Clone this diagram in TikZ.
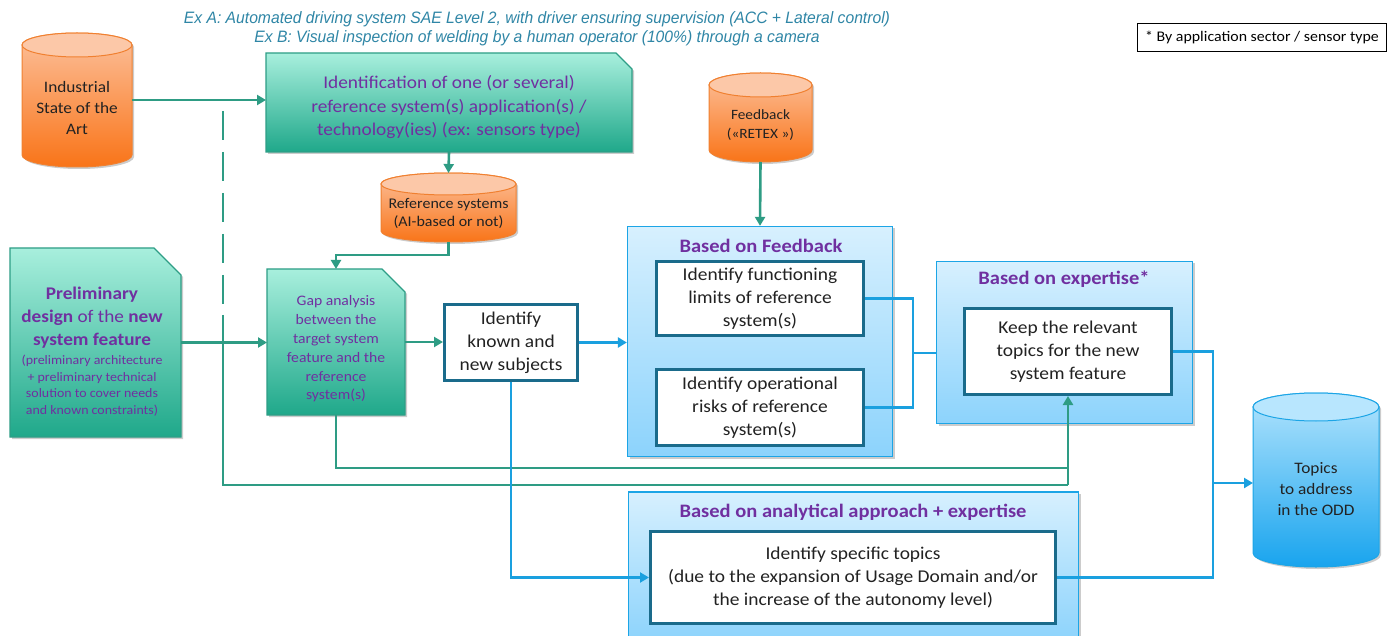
\documentclass[tikz,border=0pt]{standalone}
\usepackage{fontspec}
\setmainfont{Carlito}[FakeStretch=1.08]
\newfontfamily\exfont[FakeStretch=0.95]{Liberation Sans}
\usetikzlibrary{arrows.meta,shadows,fit}

\definecolor{tealL}{HTML}{A8EFDD}
\definecolor{tealD}{HTML}{1FA88A}
\definecolor{tealE}{HTML}{2E9E86}
\definecolor{tealLine}{HTML}{2E9C84}
\definecolor{oraL}{HTML}{FCC09B}
\definecolor{oraD}{HTML}{F97418}
\definecolor{oraE}{HTML}{F08030}
\definecolor{oraTop}{HTML}{FCC8A8}
\definecolor{bluL}{HTML}{D7F0FE}
\definecolor{bluD}{HTML}{8CD3FC}
\definecolor{bluE}{HTML}{1CA5E6}
\definecolor{bluLine}{HTML}{1AA0DF}
\definecolor{boxE}{HTML}{1A6B8B}
\definecolor{purp}{HTML}{7030A0}
\definecolor{exblue}{HTML}{2F86A6}
\definecolor{cylBL}{HTML}{B3E4FD}
\definecolor{cylBD}{HTML}{18A4EE}
\definecolor{cylBTop}{HTML}{B8E6FE}
\definecolor{ink}{HTML}{222222}

% cylinder: name, x1, y1, x2, y2, lid radius, colour style, text node options, text
\newcommand\cylnode[9]{%
  \path[#7 body] (#2,{#3+#6}) -- (#2,{#5-#6})
    arc[start angle=180,end angle=0,x radius={(#4-#2)/2},y radius=#6]
    -- (#4,{#3+#6})
    arc[start angle=0,end angle=-180,x radius={(#4-#2)/2},y radius=#6] -- cycle;
  \path[#7 lid] ({(#2+#4)/2},{#3+#6}) ellipse[x radius={(#4-#2)/2},y radius=#6];
  \node[inner sep=0,outer sep=0,fit={(#2,#3) (#4,#5)}] (#1) {};
  \node[align=center,text=ink,#8] (#1-t) {#9};}

% box with a cut top-right corner: name, x1, y1, x2, y2, cut, text node options, text
\newcommand\snipnode[8]{%
  \path[snipbox] (#2,#3) -- ({#4-#6},#3) -- (#4,{#3+#6}) -- (#4,#5) -- (#2,#5) -- cycle;
  \node[inner sep=0,outer sep=0,fit={(#2,#3) (#4,#5)}] (#1) {};
  \node[align=center,text=purp,#7] (#1-t) {#8};}

\tikzset{
  shd/.style={drop shadow={shadow xshift=2pt,shadow yshift=-2pt,fill=black,opacity=0.2}},
  orange body/.style={draw=oraE,line width=1pt,top color=oraL,bottom color=oraD,shd},
  orange lid/.style={draw=oraE,line width=1pt,fill=oraTop},
  blue body/.style={draw=bluE,line width=1pt,top color=cylBL,bottom color=cylBD,shd},
  blue lid/.style={draw=bluE,line width=1pt,fill=cylBTop},
  snipbox/.style={draw=tealE,line width=1.2pt,top color=tealL,bottom color=tealD,shd},
  container/.style={draw=bluE,line width=1.3pt,top color=bluL,bottom color=bluD,shd,inner sep=0},
  wbox/.style={draw=boxE,line width=3pt,fill=white,inner sep=0,align=center,text=ink,
    font=\fontsize{18}{23}\selectfont},
  ttl/.style={text=purp,font=\fontsize{19}{21}\selectfont\bfseries},
  extxt/.style={text=exblue,font=\exfont\itshape\fontsize{16.5}{18}\selectfont},
  tealln/.style={draw=tealLine,line width=2.6pt},
  blueln/.style={draw=bluLine,line width=2.8pt},
  tip/.style={-{Triangle[length=9pt,width=10pt]}},
}

\begin{document}
\begin{tikzpicture}[x=1pt,y=-1pt]
\useasboundingbox[fill=white] (0,0) rectangle (1392,636);

% example captions
\node[extxt] (exa) at (537,19)
  {Ex A: Automated driving system SAE Level 2, with driver ensuring supervision (ACC + Lateral control)};
\node[extxt] (exb) at (537,38)
  {Ex B: Visual inspection of welding by a human operator (100\%) through a camera};

% footnote box
\node[draw=black,line width=0.9pt,fill=white,minimum width=249pt,minimum height=28pt,
  font=\fontsize{14.7}{16}\selectfont,text=black] (note) at (1262,37.5)
  {* By application sector / sensor type};

% containers
\node[container,minimum width=265pt,minimum height=230pt] (fbc) at (760,341.5) {};
\node[container,minimum width=256pt,minimum height=162pt] (expc) at (1064.5,342.5) {};
\node[container,minimum width=450pt,minimum height=150pt] (botc) at (853.5,567) {};
\node[ttl] (fbc-t) at (761,246) {Based on Feedback};
\node[ttl] (expc-t) at (1064,279) {Based on expertise*};
\node[ttl] (botc-t) at (853,512) {Based on analytical approach + expertise};

% data stores
\cylnode{ind}{22}{33}{132}{167}{12}{orange}
  {at={(77,108)},font=\fontsize{16}{21}\selectfont}{Industrial\\State of the\\Art}
\cylnode{ref}{381}{173}{516}{242}{11}{orange}
  {at={(448.5,213)},font=\fontsize{14.8}{18}\selectfont}{Reference systems\\(AI-based or not)}
\cylnode{fb}{709}{73}{812}{162}{12}{orange}
  {at={(760.5,125)},font=\fontsize{14.2}{19}\selectfont}{Feedback\\(«RETEX »)}
\cylnode{odd}{1253}{393}{1379}{567}{14}{blue}
  {at={(1316,489)},font=\fontsize{16}{21}\selectfont}{Topics\\to address\\in the ODD}

% design inputs
\snipnode{top}{266}{53}{632}{152}{16}
  {at={(449,107)},font=\fontsize{17.9}{23.5}\selectfont}
  {Identification of one (or several)\\ reference system(s) application(s) /\\
   technology(ies) (ex: sensors type)}
\snipnode{pre}{10}{248}{181}{437}{27}
  {at={(92,318)},font=\fontsize{17.8}{23}\selectfont}
  {\textbf{Preliminary}\\ \textbf{design} of the \textbf{new}\\ \textbf{system feature}}
\node[align=center,text=purp,font=\fontsize{12.9}{16.5}\selectfont] (pre-d) at (92,385.5)
  {(preliminary architecture\\ + preliminary technical\\ solution to cover needs\\
   and known constraints)};
\snipnode{gap}{267}{269}{405}{415}{23}
  {at={(336,349)},font=\fontsize{14.5}{18.8}\selectfont}
  {Gap analysis\\ between the\\ target system\\ feature and the\\ reference\\ system(s)}

% connectors
\draw[tealln,tip] (ind.east) -- (ind.east -| top.west);
\draw[tealln,tip] (top.south) -- (ref.north);
\draw[tealln,tip] (ref.south) -- ++(0,13) -| (gap.north);
\draw[tealln,tip] (fb.south) -- (fbc.north);
\draw[tealln,tip] (pre.east) -- (pre.east -| gap.west);

\coordinate (dtop) at (223,100);
\coordinate (dmid) at (223,315);
\coordinate (oj) at (1068,485);
\coordinate (gj) at (1068,468);
\draw[tealln,dash pattern=on 29pt off 12pt,dash phase=30pt] (dtop) -- (dmid);
\draw[tealln] (dmid) |- (oj);
\draw[tealln] (gap.south) |- (gj);

\coordinate (fbj) at (913,353);
\coordinate (tj) at (1213,483);

% task boxes
\node[wbox,minimum width=133pt,minimum height=76pt] (known) at (511,342.5)
  {Identify\\ known and\\ new subjects};
\node[wbox,minimum width=207pt,minimum height=74pt] (in1) at (760,298.5)
  {Identify functioning\\ limits of reference\\ system(s)};
\node[wbox,minimum width=207pt,minimum height=76pt] (in2) at (760,407.5)
  {Identify operational\\ risks of reference\\ system(s)};
\node[wbox,minimum width=207pt,minimum height=86pt] (expin) at (1068,351.5)
  {Keep the relevant\\ topics for the new\\ system feature};
\node[wbox,minimum width=405pt,minimum height=92pt] (botin) at (853,577.5)
  {Identify specific topics\\ (due to the expansion of Usage Domain and/or\\
   the increase of the autonomy level)};

\draw[tealln,tip] (gap.east) -- (gap.east -| known.west);
\draw[tealln,tip] (oj) -- (expin.south);
\draw[blueln,tip] (known.east) -- (known.east -| fbc.west);
\draw[blueln] (in1.east) -| (fbj) |- (in2.east);
\draw[blueln] (fbj) -- (fbj -| expc.west);
\draw[blueln] (expin.east) -| (tj);
\draw[blueln] (botin.east) -| (tj);
\draw[blueln,tip] (tj) -- (tj -| odd.west);
\draw[blueln,tip] (known.south) |- (botin.west);
\end{tikzpicture}
\end{document}
